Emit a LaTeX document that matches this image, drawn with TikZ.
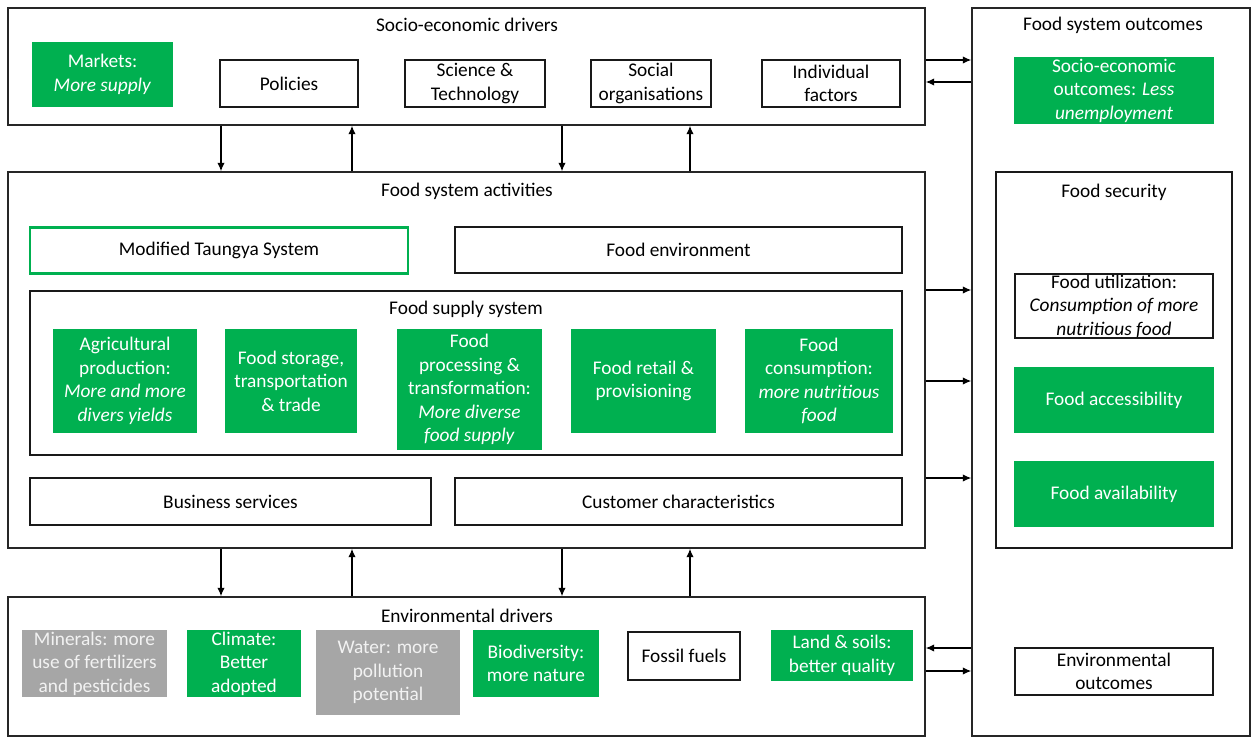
\documentclass[tikz,border=0pt]{standalone}
\usepackage{fontspec}
\setmainfont{Carlito}
\usetikzlibrary{arrows.meta}
\definecolor{fgreen}{RGB}{0,176,80}
\definecolor{fgray}{RGB}{166,166,166}
\definecolor{fgraytext}{RGB}{242,242,242}
\begin{document}
\begin{tikzpicture}[x=0.02cm,y=-0.02cm,
  font=\fontsize{11}{13.4}\selectfont,
  sz/.style 2 args={minimum width=#1*0.02cm, minimum height=#2*0.02cm, inner sep=0pt},
  frame/.style={draw=black!85, line width=0.85pt, fill=white},
  wbox/.style={draw=black!90, line width=0.8pt, fill=white, align=center},
  gbox/.style={fill=fgreen, text=white, align=center},
  grbox/.style={fill=fgray, text=fgraytext, align=center},
  mtsbox/.style={draw=fgreen, line width=1.7pt, fill=white, align=center},
  title/.style={inner sep=0pt},
  arr/.style={-{Latex[length=4.8pt,width=4.2pt]}, line width=0.7pt, black}]
\useasboundingbox (0,0) rectangle (1254,738);

% outer frames
\node[frame, sz={917}{117}] (soc) at (466.5,66.5) {};
\node[frame, sz={917}{376}] (act) at (466.5,360) {};
\node[frame, sz={917}{139}] (env) at (466.5,666.5) {};
\node[frame, sz={278}{728}] (out) at (1111,372) {};

\node[title] (socT) at (467,25) {Socio-economic drivers};
\node[title] (actT) at (467,191) {Food system activities};
\node[title] (envT) at (467,616) {Environmental drivers};
\node[title] (outT) at (1113,25) {Food system outcomes};

% socio-economic drivers
\node[gbox, sz={141}{65}] (markets) at (102.5,74.5) {Markets:\\\textit{More supply}};
\node[wbox, sz={138}{47}] (policies) at (289,83.5) {Policies};
\node[wbox, sz={140}{47}] (scitech) at (475,83.5) {Science \&\\Technology};
\node[wbox, sz={120}{47}] (social) at (651,83.5) {Social\\organisations};
\node[wbox, sz={138}{47}] (indiv) at (831,83.5) {Individual\\factors};

% food system activities
\node[mtsbox, sz={378}{46}] (mts) at (219,250) {Modified Taungya System};
\node[wbox, sz={447}{46}] (fenv) at (678.5,250) {Food environment};
\node[wbox, sz={872}{164}] (fss) at (466,373) {};
\node[title] (fssT) at (466,309) {Food supply system};
\node[gbox, sz={144}{104}] (agri) at (125,381) {Agricultural\\production:\\\textit{More and more}\\\textit{divers yields}};
\node[gbox, sz={132}{104}] (stor) at (291,381) {Food storage,\\transportation\\\& trade};
\node[gbox, sz={145}{121}] (proc) at (469.5,389.5) {Food\\processing \&\\transformation:\\\textit{More diverse}\\\textit{food supply}};
\node[gbox, sz={145}{104}] (retail) at (643.5,381) {Food retail \&\\provisioning};
\node[gbox, sz={148}{104}] (cons) at (819,381) {Food\\consumption:\\\textit{more nutritious}\\\textit{food}};
\node[wbox, sz={401}{47}] (bus) at (230.5,501.5) {Business services};
\node[wbox, sz={447}{47}] (cust) at (678.5,501.5) {Customer characteristics};

% environmental drivers
\node[grbox, sz={145}{67}] (miner) at (94.5,663.5) {Minerals: more\\use of fertilizers\\and pesticides};
\node[gbox, sz={114}{67}] (clim) at (244,663.5) {Climate:\\Better\\adopted};
\node[grbox, sz={144}{85}] (water) at (388,672.5) {Water: more\\pollution\\potential};
\node[gbox, sz={126}{67}] (biod) at (536,663.5) {Biodiversity:\\more nature};
\node[wbox, sz={112}{48}] (fossil) at (684,656) {Fossil fuels};
\node[gbox, sz={142}{51}] (land) at (842,655.5) {Land \& soils:\\better quality};

% food system outcomes
\node[gbox, sz={200}{67}] (seout) at (1114,90.5) {Socio-economic\\outcomes: \textit{Less}\\\textit{unemployment}};
\node[wbox, sz={236}{376}] (fsec) at (1114,360) {};
\node[title] (fsecT) at (1114,192) {Food security};
\node[wbox, sz={198}{64}] (futil) at (1114,306) {Food utilization:\\\textit{Consumption of more}\\\textit{nutritious food}};
\node[gbox, sz={200}{66}] (facc) at (1114,400) {Food accessibility};
\node[gbox, sz={200}{66}] (favail) at (1114,494) {Food availability};
\node[wbox, sz={198}{47}] (envout) at (1114,671.5) {Environmental\\outcomes};

% vertical links between driver rows and activities
\coordinate (v1) at (221,0);
\coordinate (v2) at (352,0);
\coordinate (v3) at (562,0);
\coordinate (v4) at (690,0);
\draw[arr] (soc.south -| v1) -- (act.north -| v1);
\draw[arr] (act.north -| v2) -- (soc.south -| v2);
\draw[arr] (soc.south -| v3) -- (act.north -| v3);
\draw[arr] (act.north -| v4) -- (soc.south -| v4);
\draw[arr] (act.south -| v1) -- (env.north -| v1);
\draw[arr] (env.north -| v2) -- (act.south -| v2);
\draw[arr] (act.south -| v3) -- (env.north -| v3);
\draw[arr] (env.north -| v4) -- (act.south -| v4);

% horizontal links to outcomes
\coordinate (h1) at (0,60);
\coordinate (h2) at (0,82);
\coordinate (h3) at (0,290);
\coordinate (h4) at (0,381);
\coordinate (h5) at (0,478);
\coordinate (h6) at (0,648);
\coordinate (h7) at (0,671);
\draw[arr] (soc.east |- h1) -- (out.west |- h1);
\draw[arr] (out.west |- h2) -- (soc.east |- h2);
\draw[arr] (act.east |- h3) -- (out.west |- h3);
\draw[arr] (act.east |- h4) -- (out.west |- h4);
\draw[arr] (act.east |- h5) -- (out.west |- h5);
\draw[arr] (out.west |- h6) -- (env.east |- h6);
\draw[arr] (env.east |- h7) -- (out.west |- h7);
\end{tikzpicture}
\end{document}
